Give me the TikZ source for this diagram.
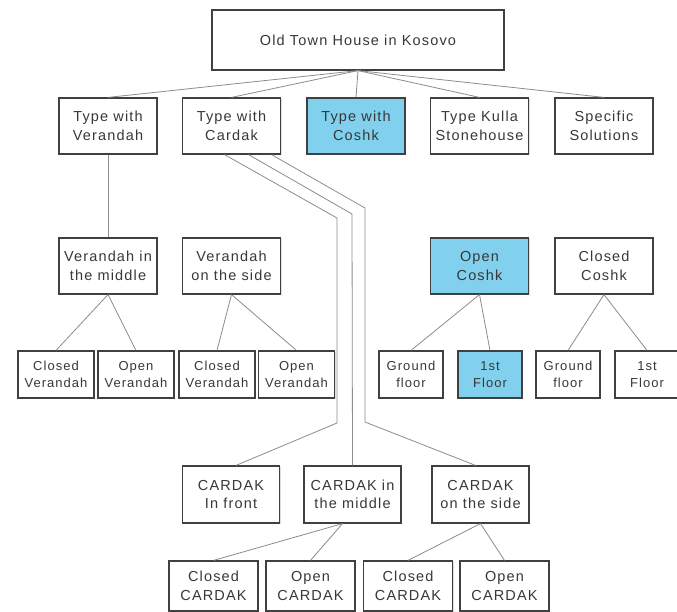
\documentclass[tikz,border=0pt]{standalone}
\usepackage{fontspec}
\setmainfont{Liberation Sans}[LetterSpace=8]
\usepackage{tikz}
\usetikzlibrary{calc,shadows}
\definecolor{coshkblue}{RGB}{128,208,238}

\begin{document}
\begin{tikzpicture}[x=1pt,y=1pt,
    box/.style={draw=black!75,line width=1.2pt,fill=white,align=center,inner sep=0pt,
        text=black!78,font=\fontsize{14.5}{18.5}\selectfont,
        drop shadow={shadow xshift=1pt,shadow yshift=-1pt,fill=black!25}},
    big/.style={box,minimum width=98pt,minimum height=56pt},
    small/.style={box,minimum width=76pt,minimum height=47pt,font=\fontsize{13}{16.5}\selectfont},
    link/.style={black!45,line width=0.8pt}]
    % Page frame
    \fill[white] (0,0) rectangle (677,-612);
    \useasboundingbox (0,0) rectangle (677,-612);

    % Row heights
    \def\yA{-40}
    \def\yB{-126}
    \def\yC{-266}
    \def\yD{-374.5}
    \def\yE{-494.5}
    \def\yF{-586}

    % Draw main types
    \node[box,minimum width=292pt,minimum height=60pt] (house) at (358,\yA) {Old Town House in Kosovo};
    \node[big] (verandah) at (108,\yB) {Type with\\Verandah};
    \node[big] (cardak) at (231.5,\yB) {Type with\\Cardak};
    \node[big,fill=coshkblue] (coshk) at (356,\yB) {Type with\\Coshk};
    \node[big] (kulla) at (479.5,\yB) {Type Kulla\\Stonehouse};
    \node[big] (specific) at (604,\yB) {Specific\\Solutions};

    % Draw sub types
    \node[big] (vmiddle) at (108,\yC) {Verandah in\\the middle};
    \node[big] (vside) at (231.5,\yC) {Verandah\\on the side};
    \node[big,fill=coshkblue] (ocoshk) at (479.5,\yC) {Open\\Coshk};
    \node[big] (ccoshk) at (604,\yC) {Closed\\Coshk};

    % Verandah and floor variants
    \node[small] (vmclosed) at (56,\yD) {Closed\\Verandah};
    \node[small] (vmopen) at (136,\yD) {Open\\Verandah};
    \node[small] (vsclosed) at (217,\yD) {Closed\\Verandah};
    \node[small] (vsopen) at (296.5,\yD) {Open\\Verandah};
    \node[small,minimum width=64pt] (ocground) at (411,\yD) {Ground\\floor};
    \node[small,minimum width=64pt,fill=coshkblue] (ocfirst) at (490,\yD) {1st\\Floor};
    \node[small,minimum width=64pt] (ccground) at (568,\yD) {Ground\\floor};
    \node[small,minimum width=64pt] (ccfirst) at (647,\yD) {1st\\Floor};

    % Cardak positions
    \node[big,minimum width=97pt,minimum height=57pt] (cfront) at (231,\yE) {CARDAK\\In front};
    \node[big,minimum width=97pt,minimum height=57pt] (cmiddle) at (352.5,\yE) {CARDAK in\\the middle};
    \node[big,minimum width=97pt,minimum height=57pt] (cside) at (480.5,\yE) {CARDAK\\on the side};

    % Cardak variants
    \node[box,minimum width=89pt,minimum height=50pt] (cmclosed) at (213.5,\yF) {Closed\\CARDAK};
    \node[box,minimum width=89pt,minimum height=50pt] (cmopen) at (310.5,\yF) {Open\\CARDAK};
    \node[box,minimum width=89pt,minimum height=50pt] (csclosed) at (408,\yF) {Closed\\CARDAK};
    \node[box,minimum width=89pt,minimum height=50pt] (csopen) at (504.5,\yF) {Open\\CARDAK};

    % Connectors
    \foreach \n in {verandah,cardak,coshk,kulla,specific}
        \draw[link] (house.south) -- (\n.north);
    \draw[link] (verandah.south) -- (vmiddle.north);
    \foreach \a/\b in {vmiddle/vmclosed,vmiddle/vmopen,vside/vsclosed,vside/vsopen,
        ocoshk/ocground,ocoshk/ocfirst,ccoshk/ccground,ccoshk/ccfirst,cside/csclosed,cside/csopen}
        \draw[link] (\a.south) -- (\b.north);
    \draw[link] ([xshift=-10pt]cmiddle.south) -- (cmclosed.north);
    \draw[link] ([xshift=-10pt]cmiddle.south) -- (cmopen.north);

    % Cardak routes
    \draw[link] ([xshift=-7pt]cardak.south) -- (337,-218) -- (337,-423) -- ([xshift=5pt]cfront.north);
    \draw[link] ([xshift=17pt]cardak.south) -- (352,-214) -- (cmiddle.north);
    \draw[link] ([xshift=40pt]cardak.south) -- (365,-208) -- (365,-422) -- ([xshift=-5pt]cside.north);
\end{tikzpicture}
\end{document}
